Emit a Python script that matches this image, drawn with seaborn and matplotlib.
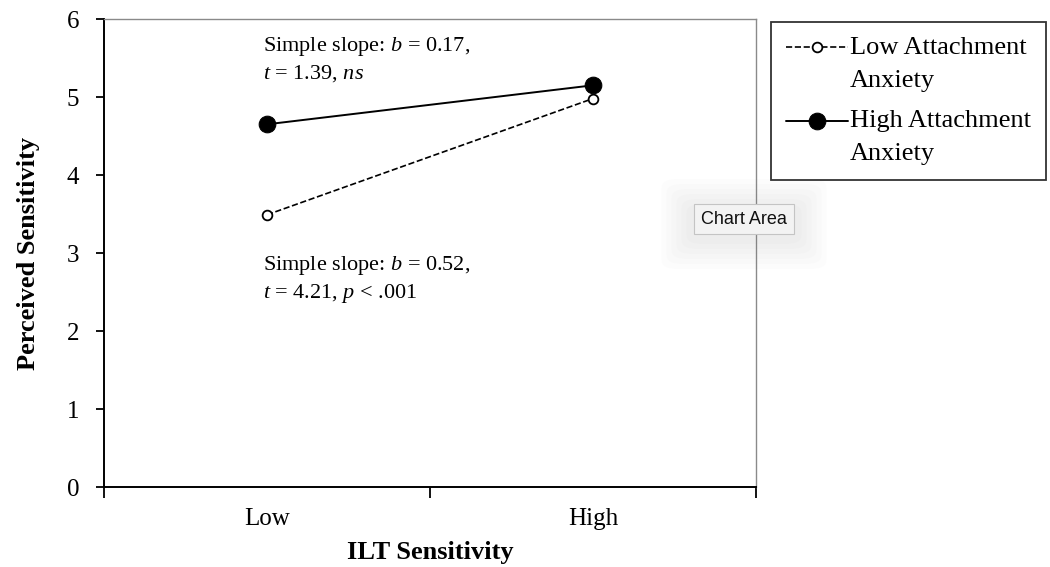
import matplotlib
matplotlib.use("Agg")
import matplotlib.pyplot as plt
import seaborn as sns
import pandas as pd
import numpy as np
from matplotlib.patches import FancyBboxPatch

# ---- data ----
categories = ["Low", "High"]
low_anxiety = [3.49, 4.98]
high_anxiety = [4.65, 5.15]
series_names = ["Low Attachment\nAnxiety", "High Attachment\nAnxiety"]
y_ticks = [0, 1, 2, 3, 4, 5, 6]
annot_top = "Simple slope: $b$ = 0.17,\n$t$ = 1.39, $ns$"
annot_bottom = "Simple slope: $b$ = 0.52,\n$t$ = 4.21, $p$ < .001"
x_label = "ILT Sensitivity"
y_label = "Perceived Sensitivity"

sns.set_theme(style="white")
plt.rcParams["font.family"] = ["Liberation Serif", "DejaVu Serif"]
plt.rcParams["mathtext.fontset"] = "custom"
plt.rcParams["mathtext.rm"] = "Liberation Serif"
plt.rcParams["mathtext.it"] = "Liberation Serif:italic"
plt.rcParams["mathtext.bf"] = "Liberation Serif:bold"
plt.rcParams["text.color"] = "black"
plt.rcParams["axes.labelcolor"] = "black"
plt.rcParams["xtick.color"] = "black"
plt.rcParams["ytick.color"] = "black"

fig = plt.figure(figsize=(10.5, 5.67), dpi=100)
ax = fig.add_axes([104 / 1050, 80 / 567, (756 - 104) / 1050, (487 - 19) / 567])

df_low = pd.DataFrame({"x": categories, "y": low_anxiety})
df_high = pd.DataFrame({"x": categories, "y": high_anxiety})

sns.lineplot(data=df_low, x="x", y="y", ax=ax, color="black", linestyle="--",
             linewidth=1.2, marker="o", markersize=7, markerfacecolor="white",
             markeredgecolor="black", markeredgewidth=1.3, label=series_names[0],
             sort=False)
sns.lineplot(data=df_high, x="x", y="y", ax=ax, color="black", linestyle="-",
             linewidth=1.4, marker="o", markersize=12, markerfacecolor="black",
             markeredgecolor="black", label=series_names[1], sort=False)

ax.set_xlim(-0.5, 1.5)
ax.set_ylim(0, 6)
ax.set_yticks(y_ticks)
ax.set_yticklabels([str(v) for v in y_ticks], fontsize=18)
ax.set_xticks([-0.5, 0.5, 1.5])
ax.set_xticklabels(["", "", ""])
ax.set_xticks([0, 1], minor=True)
ax.set_xticklabels(categories, minor=True, fontsize=18)
ax.tick_params(axis="x", which="major", direction="out", length=8, width=1.3,
               color="black", bottom=True)
ax.tick_params(axis="x", which="minor", length=0, pad=15, bottom=True)
ax.tick_params(axis="y", direction="out", length=6, width=1.3, color="black",
               left=True, pad=12)

for side in ["left", "bottom"]:
    ax.spines[side].set_color("black")
    ax.spines[side].set_linewidth(1.4)
for side in ["top", "right"]:
    ax.spines[side].set_color("#8a8a8a")
    ax.spines[side].set_linewidth(1.0)

ax.set_xlabel(x_label, fontsize=19, fontweight="bold", labelpad=8)
ax.set_ylabel(y_label, fontsize=19, fontweight="bold", labelpad=19)
ax.grid(False)

ax.text(-0.012, 5.48, annot_top, fontsize=16, ha="left", va="center",
        linespacing=1.3)
ax.text(-0.012, 2.66, annot_bottom, fontsize=16, ha="left", va="center",
        linespacing=1.3)

leg = ax.legend(loc="upper left", bbox_to_anchor=(771 / 1050, 1 - 22 / 567),
                bbox_transform=fig.transFigure, fontsize=19, frameon=True,
                fancybox=False, edgecolor="black", handlelength=2.35,
                labelspacing=0.7, borderpad=0.55, handletextpad=0.1,
                borderaxespad=0)
leg.get_frame().set_linewidth(1.3)
for t in leg.get_texts():
    t.set_linespacing(1.65)
# align legend handles with the first line of each two-line label
for h in leg.legend_handles:
    h.set_ydata(np.asarray(h.get_ydata(), dtype=float) + 11.5)

# tooltip "Chart Area" with soft shadow
cx, cy = 744 / 1050, 1 - 221 / 567
for i in range(6):
    grow = (6 - i) * 5
    w = (105 + 2 * grow) / 1050
    h = (30 + 2 * grow) / 567
    shadow = FancyBboxPatch((cx - w / 2, cy - h / 2 - 3 / 567), w, h,
                            boxstyle="round,pad=0,rounding_size=0.015",
                            transform=fig.transFigure, facecolor="#808080",
                            edgecolor="none", alpha=0.018, zorder=9)
    fig.patches.append(shadow)
fig.text(744 / 1050, 1 - 219 / 567, "Chart Area", fontsize=13,
         family=["Liberation Sans", "DejaVu Sans"], ha="center", va="center",
         color="#111111", zorder=10,
         bbox=dict(boxstyle="square,pad=0.38", facecolor="#f3f3f3",
                   edgecolor="#c4c4c4", linewidth=0.8))

fig.savefig("out.png", dpi=100)
